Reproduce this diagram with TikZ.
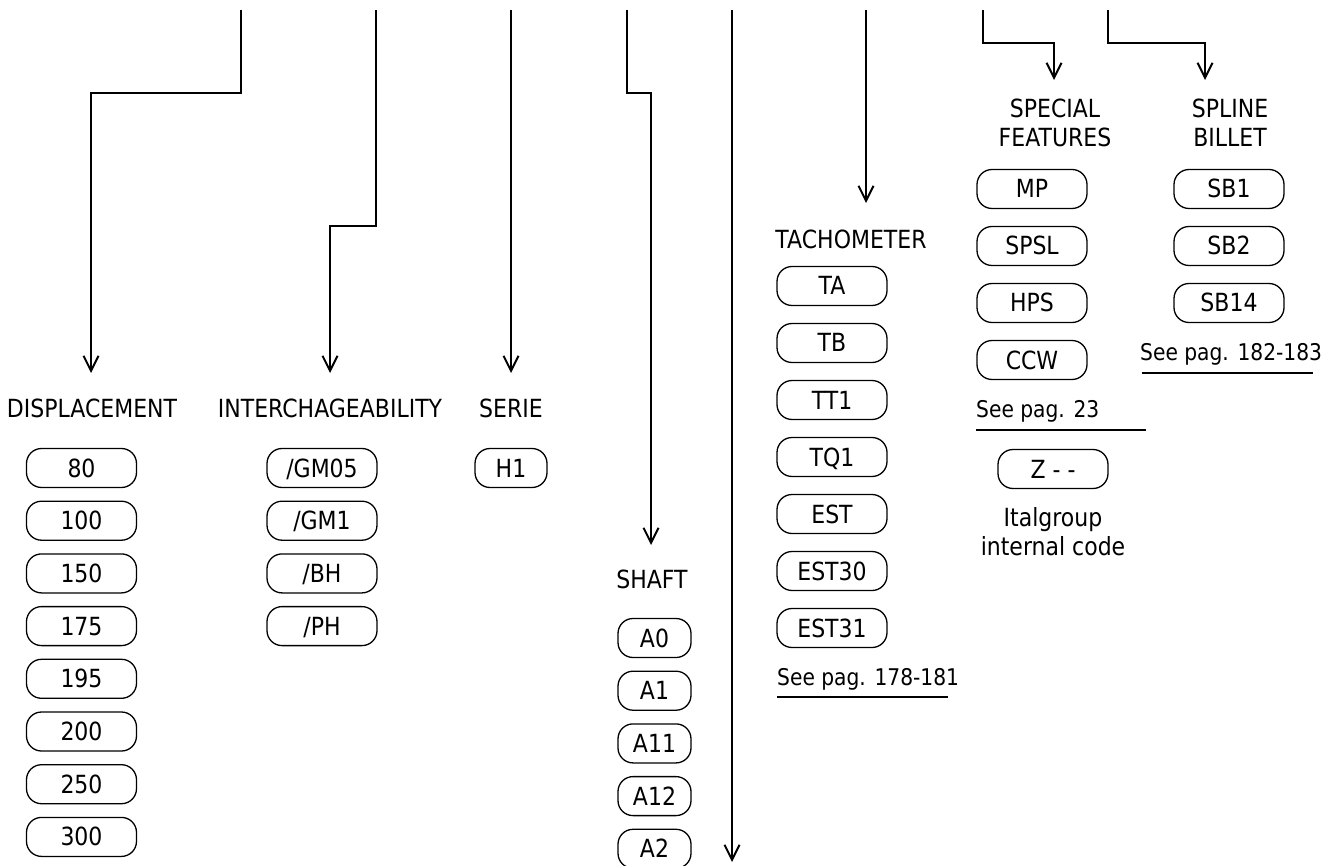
\documentclass[tikz,border=0pt]{standalone}
\usepackage{fontspec}
\setmainfont{DejaVu Sans}[FakeStretch=0.88]
\usetikzlibrary{arrows.meta}

\tikzset{
  conn/.style={line width=2.1pt,-{Straight Barb[length=15pt,width=15pt,line width=2pt]}},
  box/.style={draw,line width=1.3pt,rounded corners=15pt,minimum width=110pt,minimum height=39pt,
    text height=18pt,text depth=0pt,inner sep=0pt},
  smallbox/.style={box,minimum width=73pt},
  head/.style={anchor=base,inner sep=0pt,align=center},
  note/.style={anchor=base west,inner sep=0pt,font=\fontsize{23}{27}\selectfont},
  rule/.style={line width=1.3pt},
}

\begin{document}
\begin{tikzpicture}[x=1pt,y=-1pt,font=\fontsize{25}{29}\selectfont]
\useasboundingbox (0,0) rectangle (1327,866);

%tops and tips of the lines
\foreach \n/\x in {a/241,b/376,c/511,d/627,e/732,f/866,g/983,h/1108}
  \coordinate (top\n) at (\x,10);
\coordinate (tipa) at (91,373);
\coordinate (tipb) at (330,373);
\coordinate (tipc) at (511,373);
\coordinate (tipd) at (651,545);
\coordinate (tipe) at (732,862);
\coordinate (tipf) at (866,203);
\coordinate (tipg) at (1054,80);
\coordinate (tiph) at (1205,80);

%connectors
\draw[conn] (topa) -- ++(0,82.7) -| (tipa);
\draw[conn] (topb) -- ++(0,216) -| (tipb);
\draw[conn] (topc) -- (tipc);
\draw[conn] (topd) -- ++(0,82.7) -| (tipd);
\draw[conn] (tope) -- (tipe);
\draw[conn] (topf) -- (tipf);
\draw[conn] (topg) -- ++(0,33) -| (tipg);
\draw[conn] (toph) -- ++(0,33) -| (tiph);

%headings
\node[head] (disp) at (92,417) {DISPLACEMENT};
\node[head] (inter) at (330,417) {INTERCHAGEABILITY};
\node[head] (serie) at (511,417) {SERIE};
\node[head] (shaft) at (652,588) {SHAFT};
\node[head] (tacho) at (851,249) {TACHOMETER};
\node[head] (spec) at (1055,147) {SPECIAL\\FEATURES};
\node[head] (spline) at (1230,147) {SPLINE\\BILLET};

%displacement
\foreach \v [count=\i from 0] in {80,100,150,175,195,200,250,300}
  \node[box] (disp\i) at (81.5,468+52.7*\i) {\v};
%interchageability
\foreach \v [count=\i from 0] in {/GM05,/GM1,/BH,/PH}
  \node[box] (inter\i) at (322,468+52.7*\i) {\v};
%serie
\node[box,minimum width=72pt] (serie0) at (511,468) {H1};
%shaft
\foreach \v [count=\i from 0] in {A0,A1,A11,A12,A2}
  \node[smallbox] (shaft\i) at (654.5,638+52.7*\i) {\v};
%tachometer
\foreach \v [count=\i from 0] in {TA,TB,TT1,TQ1,EST,EST30,EST31}
  \node[box] (tacho\i) at (832,286+57*\i) {\v};
\node[note] (seetacho) at (777,685) {See pag. 178-181};
\draw[rule] (777,697) -- (948,697);
%special features
\foreach \v [count=\i from 0] in {MP,SPSL,HPS,CCW}
  \node[box] (spec\i) at (1032,189+57*\i) {\v};
\node[note] (seespec) at (976,417) {See pag. 23};
\draw[rule] (976,430) -- (1146,430);
\node[box] (code) at (1053,469) {Z - -};
\node[head] (codetext) at (1053,555) {Italgroup\\internal code};
%spline billet
\foreach \v [count=\i from 0] in {SB1,SB2,SB14}
  \node[box] (spline\i) at (1229,189+57*\i) {\v};
\node[note] (seespline) at (1140,360) {See pag. 182-183};
\draw[rule] (1142,373) -- (1313,373);
\end{tikzpicture}
\end{document}
